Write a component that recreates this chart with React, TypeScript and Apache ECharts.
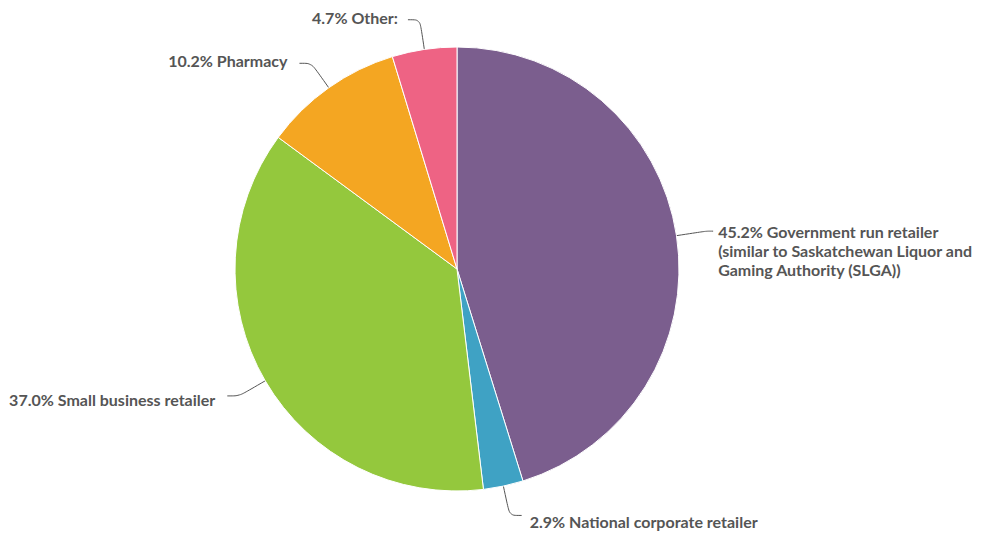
import React, { useEffect, useRef } from "react";
import * as echarts from "echarts";

const categories = [
  "Government run retailer\n(similar to Saskatchewan Liquor and\nGaming Authority (SLGA))",
  "National corporate retailer",
  "Small business retailer",
  "Pharmacy",
  "Other:",
];
const values = [45.2, 2.9, 37.0, 10.2, 4.7];
const colors = ["#7b5e8e", "#3fa2c4", "#94c83d", "#f4a622", "#ee6384"];
const labelShift = [
  { dx: 0, dy: 19 },
  { dx: 3, dy: 6 },
  { dx: -7, dy: 4 },
  { dx: -7, dy: -3 },
  { dx: -5, dy: -2 },
];

export default function App() {
  const ref = useRef<HTMLDivElement>(null);
  useEffect(() => {
    const chart = echarts.init(ref.current!, undefined, { renderer: "svg" });
    chart.setOption({
      animation: false,
      series: [
        {
          type: "pie",
          center: [457, 269],
          radius: 222,
          startAngle: 90,
          clockwise: true,
          data: categories.map((name, i) => ({
            name,
            value: values[i],
            itemStyle: { color: colors[i] },
            labelLine: i === 0 ? { length2: 7 } : undefined,
          })),
          itemStyle: { borderColor: "#ffffff", borderWidth: 1 },
          label: {
            formatter: (p: any) => `${p.value.toFixed(1)}% ${p.name}`,
            color: "#555555",
            fontFamily: "Lato",
            fontWeight: "bold",
            fontSize: 16,
            lineHeight: 19,
          },
          labelLine: {
            length: 30,
            length2: 12,
            smooth: 0.3,
            lineStyle: { color: "#555555", width: 1 },
          },
          labelLayout: (params: any) => labelShift[params.dataIndex] || {},
          emphasis: { disabled: true },
        },
      ],
    });
    return () => chart.dispose();
  }, []);
  return (
    <div
      ref={ref}
      style={{ position: "fixed", left: 0, top: 0, width: 992, height: 535, background: "#fff" }}
    />
  );
}
